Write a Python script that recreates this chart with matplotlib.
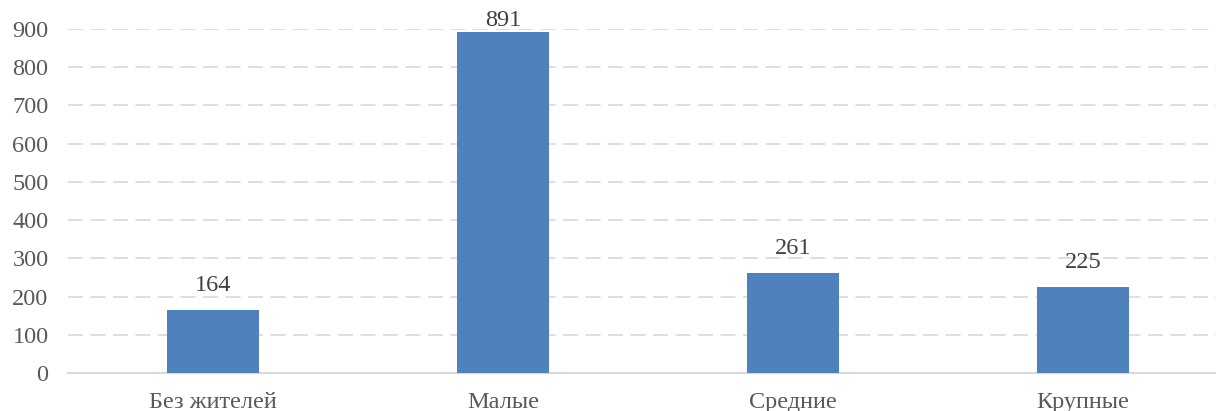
import matplotlib
matplotlib.use('Agg')
import matplotlib.pyplot as plt

categories = ['Без жителей', 'Малые', 'Средние', 'Крупные']
values = [164, 891, 261, 225]
y_ticks = [0, 100, 200, 300, 400, 500, 600, 700, 800, 900]

plt.rcParams['font.family'] = ['Liberation Serif', 'DejaVu Serif']

fig = plt.figure(figsize=(12.16, 4.11), dpi=100)
# axis runs a bit past the right edge, like the cropped original
ax = fig.add_axes([68 / 1216, 1 - 373 / 411, 1160 / 1216, 344 / 411])

x = list(range(len(categories)))
ax.bar(x, values, width=0.314, color='#4F81BD', zorder=3)

ax.set_xlim(-0.5, len(categories) - 0.5)
ax.set_ylim(0, 900)
ax.set_yticks(y_ticks)
ax.set_xticks(x)
ax.set_xticklabels(categories)

ax.yaxis.grid(True, color='#D9D9D9', linewidth=1.2, linestyle=(0, (9, 4.5)), zorder=0)
ax.set_axisbelow(True)

for side in ['top', 'right', 'left']:
    ax.spines[side].set_visible(False)
ax.spines['bottom'].set_color('#D9D9D9')
ax.spines['bottom'].set_linewidth(1.5)

ax.tick_params(axis='both', length=0, labelsize=17.5, colors='#595959')
ax.tick_params(axis='y', pad=14)
ax.tick_params(axis='x', pad=14)

top = max(values)
for xi, v in zip(x, values):
    # the tallest label is pulled down so it stays inside the picture
    off = 1 if v == top else 10
    ax.annotate(str(v), (xi, v), xytext=(0, off), textcoords='offset points',
                ha='center', va='bottom', fontsize=17.5, color='#404040',
                annotation_clip=False)

fig.savefig('out.png', dpi=100)
